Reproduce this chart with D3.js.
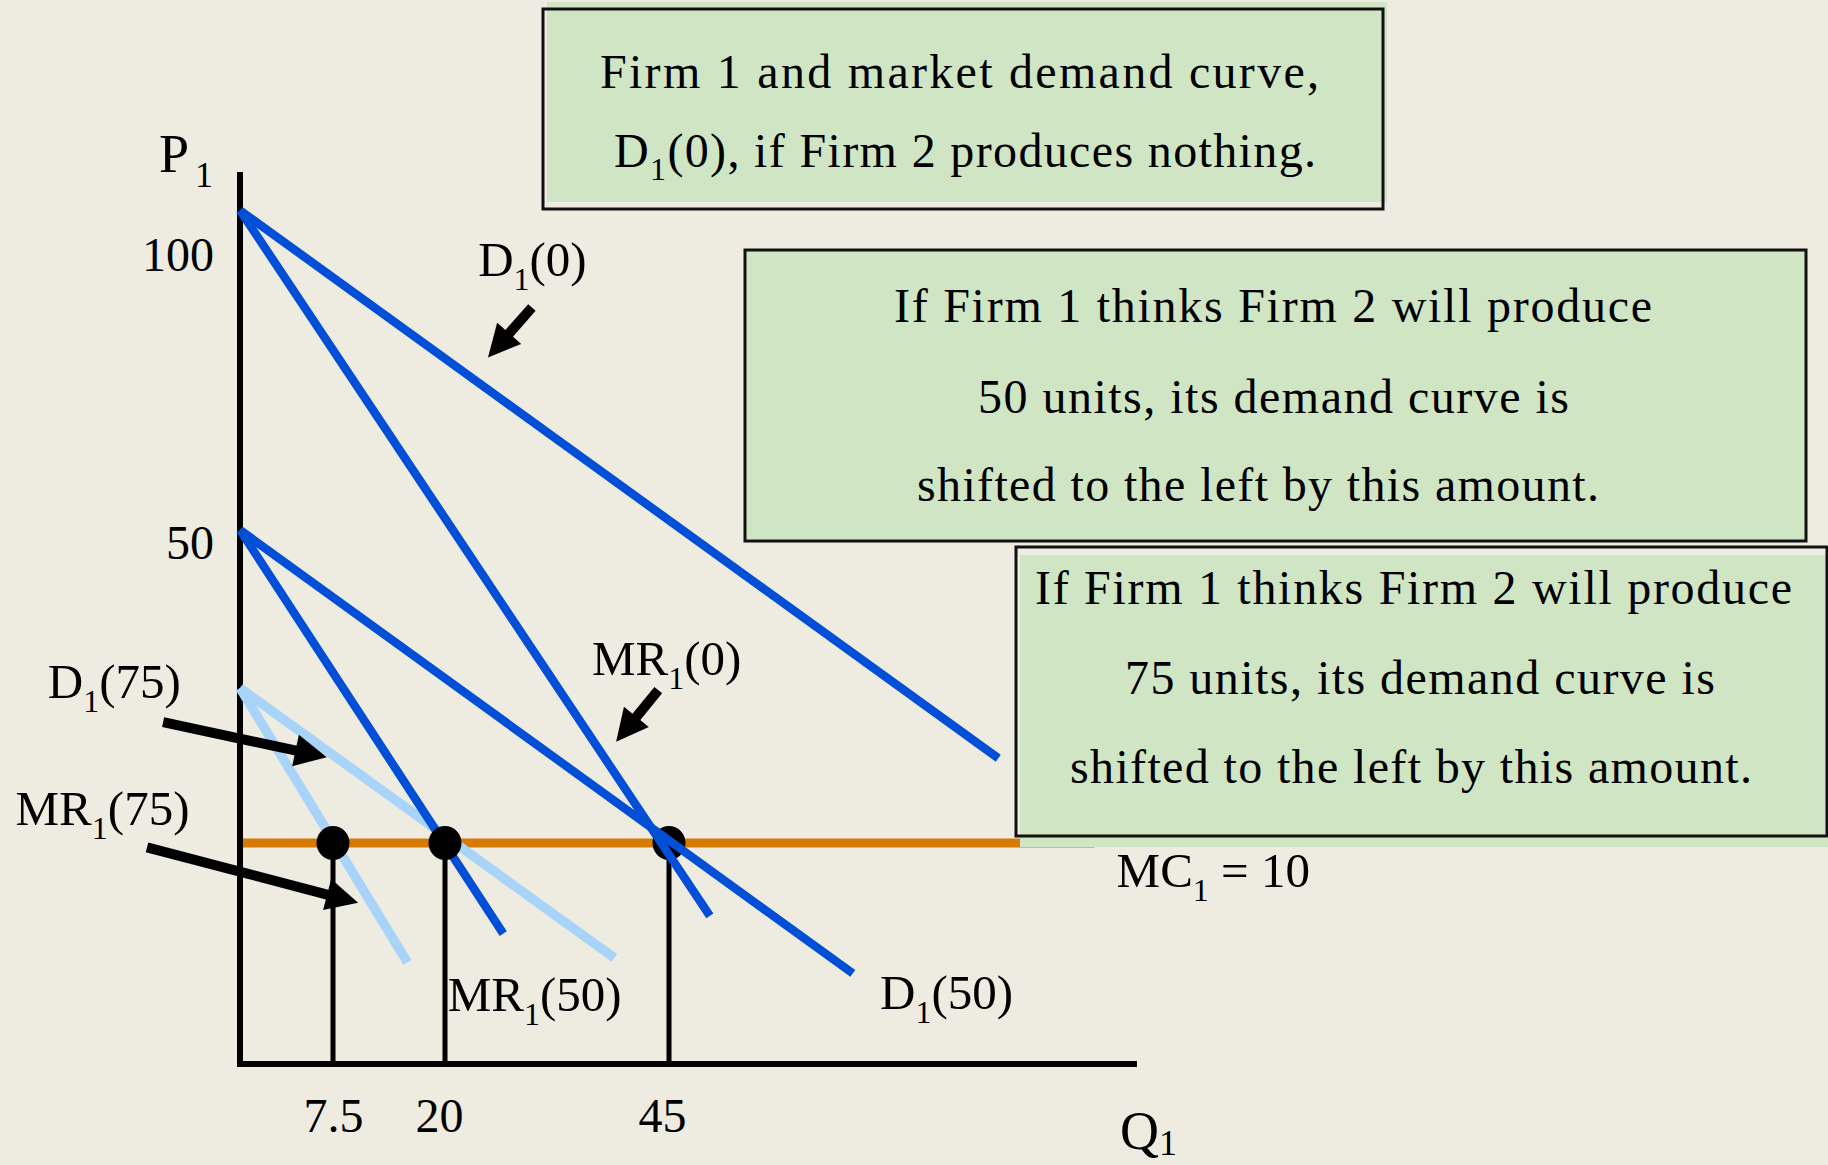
<!DOCTYPE html>
<html>
<head>
<meta charset="utf-8">
<script src="https://cdn.jsdelivr.net/npm/d3@7"></script>
<style>
    html, body { margin: 0; padding: 0; background: #eeebe0; }
    svg { display: block; }
    text { font-family: "Liberation Serif", "Times New Roman", serif; fill: #000; }
</style>
</head>
<body>
<svg id="chart" width="1828" height="1165"></svg>
<script>

var curve_names  = ['D_1(75)', 'MR_1(75)', 'MR_1(50)', 'D_1(0)', 'MR_1(0)', 'D_1(50)'];
var curve_start  = [[0, 25], [0, 25], [0, 50], [0, 100], [0, 100], [0, 50]];
var curve_end    = [[38.9, 4.8], [15.8, 4.6], [26.5, 5.9], [83.7, 18.2], [49.8, 6.7], [66.6, 4.1]];
var curve_kind   = ['light', 'light', 'dark', 'dark', 'dark', 'dark'];

var mc_value      = 10;
var mc_end_q      = 95;
var equilibrium_q = [7.5, 20, 45];

var x_ticks     = [7.5, 20, 45];
var y_ticks     = [50, 100];
var x_axis_max  = 100;
var y_axis_max  = 106;

/* Beschriftungstexte ("_1" = tiefgestellte 1) */
var box1_lines = ['Firm 1 and market demand curve,', 'D_1(0), if Firm 2 produces nothing.'];
var box2_lines = ['If Firm 1 thinks Firm 2 will produce', '50 units, its demand curve is', 'shifted to the left by this amount.'];
var box3_lines = ['If Firm 1 thinks Firm 2 will produce', '75 units, its demand curve is', 'shifted to the left by this amount.'];

(function() {

    var svg = d3.select('#chart');

    var col = {
        bg:     '#eeebe0',
        dark:   '#004fd6',
        light:  '#a8d4fa',
        mc:     '#d67a00',
        box:    '#cfe5c4'
    };

    /* Die Achsen sind nicht massstabsgetreu - daher stueckweise lineare Skalen */
    var x = d3.scaleLinear()
        .domain([0, 7.5, 20, 45, x_axis_max])
        .range([240, 333, 445, 669, 1137]);

    var y = d3.scaleLinear()
        .domain([0, 10, 25, 50, y_axis_max])
        .range([1064, 843, 688, 530, 172]);

    svg.append('rect')
        .attr('width', 1828).attr('height', 1165)
        .attr('fill', col.bg);

    /* Text mit tiefgestellten Ziffern */
    function rich_text(parent, str, size, shift) {
        var t = parent.append('text').attr('font-size', size + 'px');
        var parts = str.split(/_(\d)/);
        shift = shift || Math.round(size * 0.28);
        parts.forEach(function(p, i) {
            if (p === '') return;
            var ts = t.append('tspan').text(p);
            if (i % 2 === 1) {
                ts.attr('font-size', Math.round(size * 0.66) + 'px').attr('dy', shift);
            } else if (i > 0) {
                ts.attr('dy', -shift);
            }
        });
        return t;
    }

    /* ### Achsen ### */
    svg.append('line')
        .attr('x1', x(0)).attr('x2', x(0))
        .attr('y1', y(y_axis_max)).attr('y2', y(0) + 3)
        .attr('stroke', '#000').attr('stroke-width', 6);

    svg.append('line')
        .attr('x1', x(0) - 3).attr('x2', x(x_axis_max))
        .attr('y1', y(0)).attr('y2', y(0))
        .attr('stroke', '#000').attr('stroke-width', 6);

    var y_nudge = { 100: 60, 50: 28 };
    var y_axis = svg.append('g')
        .attr('transform', 'translate(' + (x(0) - 26) + ',0)')
        .call(d3.axisLeft(y).tickValues(y_ticks).tickSize(0).tickPadding(0));
    y_axis.select('.domain').remove();
    y_axis.selectAll('text')
        .attr('font-family', null)
        .attr('font-size', '48px')
        .attr('dy', function(d) { return y_nudge[d]; });

    var x_nudge = { 7.5: 0, 20: -6, 45: -7 };
    var x_axis = svg.append('g')
        .attr('transform', 'translate(0,' + y(0) + ')')
        .call(d3.axisBottom(x).tickValues(x_ticks).tickSize(0).tickPadding(0)
            .tickFormat(function(d) { return String(d); }));
    x_axis.select('.domain').remove();
    x_axis.selectAll('text')
        .attr('font-family', null)
        .attr('font-size', '48px')
        .attr('dx', function(d) { return x_nudge[d]; })
        .attr('dy', 68);

    var p_lab = rich_text(svg, 'P_1', 54)
        .attr('x', x(0) - 81).attr('y', y(y_axis_max));
    p_lab.select('tspan:nth-child(2)').attr('dx', 6);
    rich_text(svg, 'Q_1', 54, 6)
        .attr('x', x(x_axis_max) - 17).attr('y', y(0) + 85);

    /* ### Grenzkosten MC ### */
    svg.append('line')
        .attr('x1', x(0) + 3).attr('x2', x(mc_end_q))
        .attr('y1', y(mc_value)).attr('y2', y(mc_value))
        .attr('stroke', col.mc).attr('stroke-width', 9);

    /* Lote von den Gleichgewichtspunkten */
    svg.selectAll('.drop')
        .data(equilibrium_q).enter()
        .append('line')
        .attr('class', 'drop')
        .attr('x1', function(d) { return x(d); })
        .attr('x2', function(d) { return x(d); })
        .attr('y1', y(mc_value))
        .attr('y2', y(0))
        .attr('stroke', '#000').attr('stroke-width', 5);

    var curves = curve_names.map(function(n, i) {
        return { name: n, a: curve_start[i], b: curve_end[i], kind: curve_kind[i] };
    });

    var front = ['D_1(0)', 'MR_1(0)', 'D_1(50)'];

    function draw_curves(list) {
        svg.selectAll(null)
            .data(list).enter()
            .append('line')
            .attr('x1', function(d) { return x(d.a[0]); })
            .attr('y1', function(d) { return y(d.a[1]); })
            .attr('x2', function(d) { return x(d.b[0]); })
            .attr('y2', function(d) { return y(d.b[1]); })
            .attr('stroke', function(d) { return d.kind === 'light' ? col.light : col.dark; })
            .attr('stroke-width', function(d) { return d.kind === 'light' ? 9.5 : 8.5; });
    }

    draw_curves(curves.filter(function(c) { return front.indexOf(c.name) < 0; }));

    svg.selectAll('.dot')
        .data(equilibrium_q).enter()
        .append('ellipse')
        .attr('class', 'dot')
        .attr('cx', function(d) { return x(d); })
        .attr('cy', y(mc_value))
        .attr('rx', 16.5).attr('ry', 17)
        .attr('fill', '#000');

    draw_curves(curves.filter(function(c) { return front.indexOf(c.name) >= 0; }));

    /* ### Pfeile (Q, P) ### */
    var arrows = [
        { from: [29.7, 84.8], to: [24.8, 77.0] },
        { from: [43.8, 24.8], to: [39.1, 19.8] },
        { from: [-6.2, 21.7], to: [7.0, 18.3] },
        { from: [-7.5, 9.8],  to: [10.3, 7.3] }
    ];

    arrows.forEach(function(a) {
        var x1 = x(a.from[0]), y1 = y(a.from[1]);
        var x2 = x(a.to[0]),   y2 = y(a.to[1]);
        var len = Math.hypot(x2 - x1, y2 - y1);
        var ux = (x2 - x1) / len, uy = (y2 - y1) / len;
        var hl = 32, hw = 16;
        var bx = x2 - ux * hl, by = y2 - uy * hl;
        svg.append('line')
            .attr('x1', x1).attr('y1', y1)
            .attr('x2', bx + ux * 2).attr('y2', by + uy * 2)
            .attr('stroke', '#000').attr('stroke-width', 10);
        svg.append('polygon')
            .attr('points', [
                [x2, y2],
                [bx - uy * hw, by + ux * hw],
                [bx + uy * hw, by - ux * hw]
            ].map(function(p) { return p.join(','); }).join(' '))
            .attr('fill', '#000');
    });

    /* ### Kurvenbeschriftungen (Ankerpunkt in Q, P) ### */
    var labels = [
        { text: 'D_1(0)',    q: 23.7,  p: 89.8 },
        { text: 'MR_1(0)',   q: 36.4,  p: 27.1 },
        { text: 'D_1(75)',   q: -15.5, p: 24.0 },
        { text: 'MR_1(75)',  q: -18.1, p: 11.7 },
        { text: 'MR_1(50)',  q: 20.3,  p: 2.4 },
        { text: 'D_1(50)',   q: 69.8,  p: 2.5 },
        { text: 'MC_1 = 10', q: 97.6,  p: 8.0 }
    ];

    labels.forEach(function(l) {
        rich_text(svg, l.text, 49)
            .attr('x', x(l.q)).attr('y', y(l.p));
    });

    /* ### Textkaesten ### */
    var boxes = [
        { border: [543, 9, 840, 200],   fill: [547, 2, 840, 200],  lines: box1_lines,
          layout: [[600, 88, 719], [614, 167, 702]] },
        { border: [745, 250, 1061, 291], fill: [746, 250, 1060, 291], lines: box2_lines,
          layout: [[894, 322, 758], [978, 413, 591], [917, 501, 682]] },
        { border: [1016, 547, 811, 289], fill: [1020, 555, 808, 292], lines: box3_lines,
          layout: [[1035, 604, 757], [1125, 694, 590], [1070, 783, 682]] }
    ];

    boxes.forEach(function(b) {
        svg.append('rect')
            .attr('x', b.fill[0]).attr('y', b.fill[1])
            .attr('width', b.fill[2]).attr('height', b.fill[3])
            .attr('fill', col.box);
        svg.append('rect')
            .attr('x', b.border[0]).attr('y', b.border[1])
            .attr('width', b.border[2]).attr('height', b.border[3])
            .attr('fill', 'none')
            .attr('stroke', '#111').attr('stroke-width', 3);
        b.lines.forEach(function(line, i) {
            var lay = b.layout[i];
            rich_text(svg, line, 48)
                .attr('x', lay[0]).attr('y', lay[1])
                .attr('textLength', lay[2])
                .attr('lengthAdjust', 'spacing');
        });
    });

}());
</script>
</body>
</html>
